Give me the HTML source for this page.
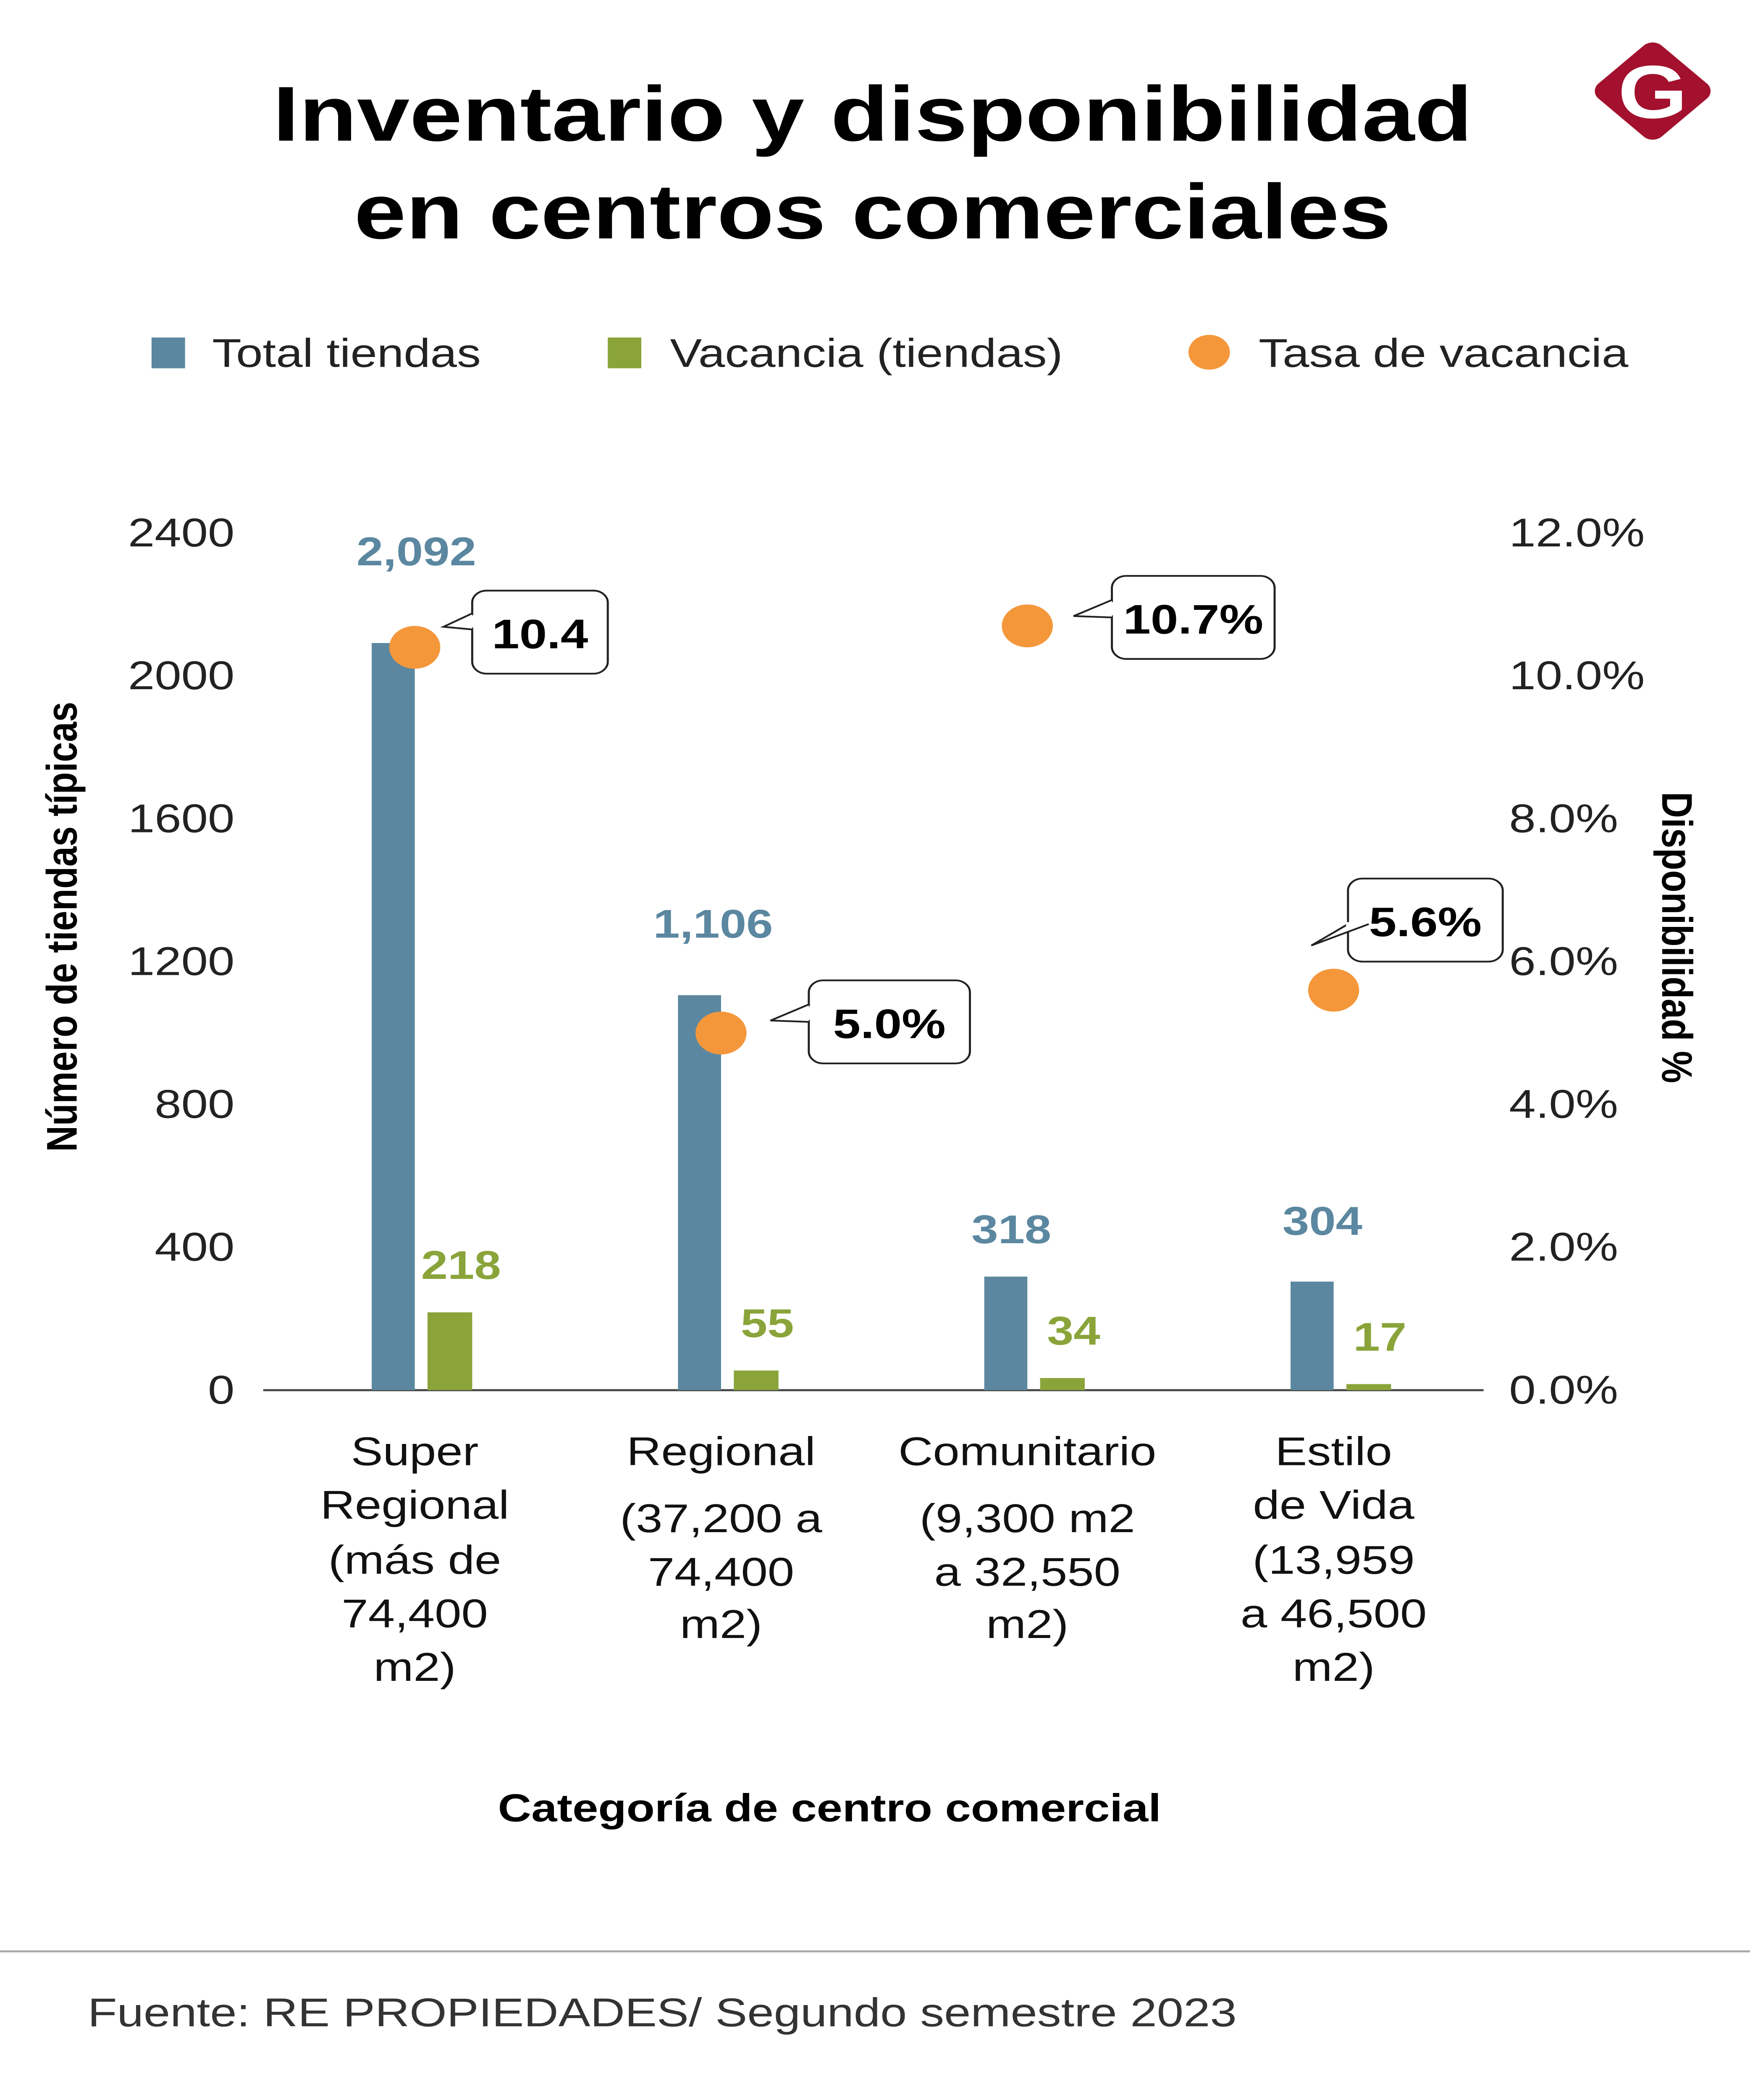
<!DOCTYPE html>
<html><head><meta charset="utf-8"><style>
html,body{margin:0;padding:0;background:#fff;width:100vw;height:100vh;overflow:hidden;}
svg{display:block;font-family:"Liberation Sans",sans-serif;position:fixed;left:0;top:0;width:100vw;height:100vh;}
</style></head><body>
<svg id="chart" xmlns="http://www.w3.org/2000/svg" viewBox="0 0 1097 1568" preserveAspectRatio="none">
<rect width="1097" height="1568" fill="#fff"/>
<g font-weight="bold" font-size="58" text-anchor="middle" fill="#000">
<text x="547" y="105" textLength="752" lengthAdjust="spacingAndGlyphs">Inventario y disponibilidad</text>
<text x="547" y="178" textLength="650" lengthAdjust="spacingAndGlyphs">en centros comerciales</text>
</g>
<g>
<rect x="1008" y="40" width="56" height="56" rx="8" fill="#a3112e" transform="rotate(45 1036 68)"/>
<text x="1036" y="88" text-anchor="middle" font-size="56" font-weight="bold" fill="#fff">G</text>
</g>
<g font-size="30" fill="#222">
<rect x="95" y="252" width="21" height="23" fill="#5b87a0"/>
<text x="133" y="274">Total tiendas</text>
<rect x="381" y="252" width="21" height="23" fill="#8aa43a"/>
<text x="420" y="274">Vacancia (tiendas)</text>
<circle cx="758" cy="263" r="13" fill="#f4973b"/>
<text x="789" y="274">Tasa de vacancia</text>
</g>
<line x1="165" y1="1038" x2="930" y2="1038" stroke="#444" stroke-width="1.5"/>
<g id="leftTicks" font-size="30" fill="#222" text-anchor="end"></g>
<g id="rightTicks" font-size="30" fill="#222"></g>
<g id="marks"></g>
<text transform="translate(48 692) rotate(-90)" text-anchor="middle" font-size="27" font-weight="bold">Número de tiendas típicas</text>
<text transform="translate(1042 700) rotate(90)" text-anchor="middle" font-size="27" font-weight="bold">Disponibilidad %</text>
<g id="cats" font-size="30" fill="#111" text-anchor="middle"></g>
<text x="520" y="1360" text-anchor="middle" font-size="29" font-weight="bold">Categoría de centro comercial</text>
<line x1="0" y1="1457" x2="1097" y2="1457" stroke="#aaa" stroke-width="1.5"/>
<text x="55" y="1513" font-size="30" fill="#333">Fuente: RE PROPIEDADES/ Segundo semestre 2023</text>
</svg>
<script>
const categories = ["Super Regional","Regional","Comunitario","Estilo de Vida"];
const categoryLines = [["Super","Regional","(más de","74,400","m2)"],["Regional","","(37,200 a","74,400","m2)"],["Comunitario","","(9,300 m2","a 32,550","m2)"],["Estilo","de Vida","(13,959","a 46,500","m2)"]];
const totalTiendas = [2092,1106,318,304];
const vacancia = [218,55,34,17];
const tasa = [10.4,5.0,10.7,5.6];
const tasaLabels = ["10.4","5.0%","10.7%","5.6%"];
const totalLabels = ["2,092","1,106","318","304"];
const leftTickValues = [0,400,800,1200,1600,2000,2400];
const rightTickLabels = ["0.0%","2.0%","4.0%","6.0%","8.0%","10.0%","12.0%"];

const NS="http://www.w3.org/2000/svg";
const y0=1038, yTop=398;
const yL=v=>y0-(v/2400)*(y0-yTop);
const yR=v=>y0-(v/12)*(y0-yTop);
const xC=i=>260+i*192;
function mk(tag,attrs,parent,text){const e=document.createElementNS(NS,tag);for(const k in attrs)e.setAttribute(k,attrs[k]);if(text!==undefined)e.textContent=text;parent.appendChild(e);return e;}
const lt=document.getElementById('leftTicks'), rt=document.getElementById('rightTicks'), marks=document.getElementById('marks'), cats=document.getElementById('cats');
leftTickValues.forEach((v,i)=>{
 const t=mk('text',{x:147,y:yL(v)+10},lt,String(v));
 
 
 const r=mk('text',{x:946,y:yR(i*2)+10},rt,rightTickLabels[i]);
 
 
});
const blueLabelDx=[1,-5,-10,-7];
const blueLabelDy=[-58,-43,-25,-35];
const callouts=[
 {bx:296,by:441,bw:85,tail:"M296 458 L278 468 L296 470"},
 {bx:507,by:732,bw:101,tail:"M507 750 L483 762 L507 763"},
 {bx:697,by:430,bw:102,tail:"M697 448 L673 460 L697 461"},
 {bx:845,by:656,bw:97,tail:"M845 690 L822 706 L858 690"}
];
categories.forEach((c,i)=>{
 const cx=xC(i);
 const b=mk('rect',{x:cx-27,y:yL(totalTiendas[i]),width:27,height:y0-yL(totalTiendas[i]),fill:'#5b87a0'},marks);
 
 
 const g=mk('rect',{x:cx+8,y:yL(vacancia[i]),width:28,height:y0-yL(vacancia[i]),fill:'#8aa43a'},marks);
 
 
 const bl=mk('text',{x:cx+blueLabelDx[i],y:yL(totalTiendas[i])+blueLabelDy[i],'text-anchor':'middle','font-size':30,'font-weight':'bold',fill:'#5b87a0'},marks,totalLabels[i]);
 
 
 const gl=mk('text',{x:cx+29,y:yL(vacancia[i])-25,'text-anchor':'middle','font-size':30,'font-weight':'bold',fill:'#8aa43a'},marks,String(vacancia[i]));
 
 
 const d=mk('circle',{cx:cx,cy:yR(tasa[i]),r:16,fill:'#f4973b'},marks);
 
 
 const co=callouts[i];
 const cg=mk('g',{},marks);
 
 
 mk('rect',{x:co.bx,y:co.by,width:co.bw,height:62,rx:9,fill:'#fff',stroke:'#222','stroke-width':1.3},cg);
 mk('path',{d:co.tail,fill:'#fff',stroke:'#222','stroke-width':1.3},cg);
 mk('line',{x1:co.bx,y1:parseFloat(co.tail.split(' ')[1])+1.5,x2:co.bx,y2:parseFloat(co.tail.split(' ')[5])-1.5,stroke:'#fff','stroke-width':2.5},cg);
 mk('text',{x:co.bx+co.bw/2,y:co.by+43,'text-anchor':'middle','font-size':31,'font-weight':'bold',fill:'#000'},cg,tasaLabels[i]);
 const lines=categoryLines[i];
 const ys=(lines[1]==="")?[1094,null,1144,1184,1223]:[1094,1134,1175,1215,1255];
 const cl=mk('text',{},cats);
 
 
 lines.forEach((ln,j)=>{if(ln!=="")mk('tspan',{x:cx,y:ys[j]},cl,ln);});
});
</script>
</body></html>
